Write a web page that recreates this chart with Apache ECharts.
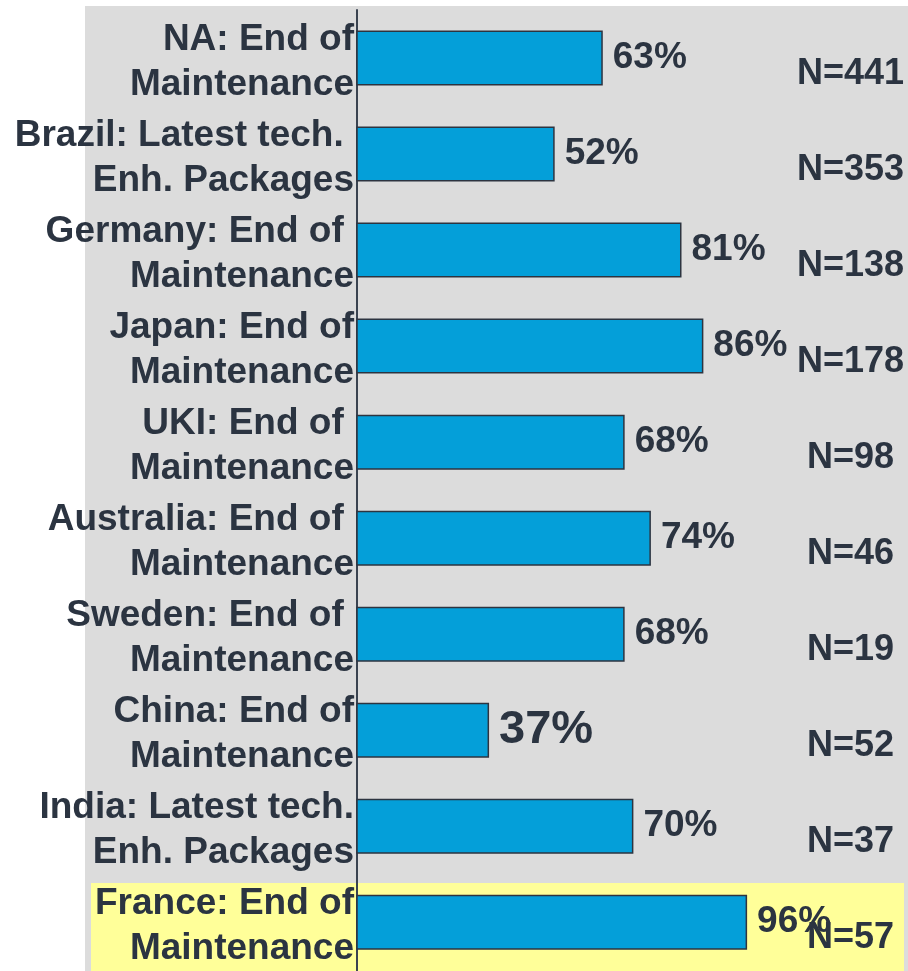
<!DOCTYPE html>
<html>
<head>
<meta charset="utf-8">
<script src="https://cdn.jsdelivr.net/npm/echarts@6/dist/echarts.min.js"></script>
<style>
    html, body { margin: 0; padding: 0; background: #fff; }
    #chart { width: 908px; height: 971px; }
</style>
</head>
<body>
<div id="chart"></div>
<script>
    var categories = [
        'NA: End of\nMaintenance',
        'Brazil: Latest tech. \nEnh. Packages',
        'Germany: End of \nMaintenance',
        'Japan: End of\nMaintenance',
        'UKI: End of \nMaintenance',
        'Australia: End of \nMaintenance',
        'Sweden: End of \nMaintenance',
        'China: End of\nMaintenance',
        'India: Latest tech.\nEnh. Packages',
        'France: End of\nMaintenance'
    ];
    var percentValues = [63, 52, 81, 86, 68, 74, 68, 37, 70, 96];
    var sampleSizes = ['N=441', 'N=353', 'N=138', 'N=178', 'N=98', 'N=46', 'N=19', 'N=52', 'N=37', 'N=57'];

    var textColor = '#2b3441';
    var font = '"Liberation Sans", Arial, sans-serif';

    var myecharts = echarts.init(document.getElementById('chart'));

    var seriesData = [];
    for (var i = 0; i < percentValues.length; i++) {
        // the China figure is called out with a larger label
        var big = categories[i].indexOf('China') === 0;
        seriesData.push({
            value: percentValues[i],
            label: big ? { fontSize: 47 } : {}
        });
    }

    var option = {
        backgroundColor: '#ffffff',
        animation: false,
        graphic: [
            { type: 'rect', z: -10, silent: true, shape: { x: 85, y: 6, width: 823, height: 965 }, style: { fill: '#dcdcdc' } },
            { type: 'rect', z: -9, silent: true, shape: { x: 91, y: 883, width: 813, height: 88 }, style: { fill: '#ffff99' } }
        ],
        grid: {
            left: 357,
            top: 10,
            width: 407.6,
            height: 966
        },
        xAxis: {
            type: 'value',
            min: 6.8,
            max: 100,
            show: false
        },
        yAxis: [{
            type: 'category',
            inverse: true,
            data: categories,
            axisLine: { show: true, lineStyle: { color: '#3a4350', width: 2 } },
            axisTick: { show: false },
            axisLabel: {
                interval: 0,
                showMinLabel: true,
                showMaxLabel: true,
                hideOverlap: false,
                margin: 3,
                color: textColor,
                fontFamily: font,
                fontWeight: 'bold',
                fontSize: 37,
                lineHeight: 45,
                align: 'right',
                // small spacer line on top nudges the two text lines down a bit
                formatter: function (v) { return '{gap| }\n' + v; },
                rich: { gap: { fontSize: 8, lineHeight: 8 } }
            }
        }, {
            type: 'category',
            inverse: true,
            position: 'right',
            data: sampleSizes,
            axisLine: { show: false },
            axisTick: { show: false },
            axisLabel: {
                interval: 0,
                showMinLabel: true,
                showMaxLabel: true,
                hideOverlap: false,
                margin: 86,
                align: 'center',
                color: textColor,
                fontFamily: font,
                fontWeight: 'bold',
                fontSize: 36,
                lineHeight: 32,
                // empty first line pushes the N= text below the bar centre
                formatter: function (v) { return '\n' + v; }
            }
        }],
        series: [{
            type: 'bar',
            yAxisIndex: 0,
            barWidth: 55,
            data: seriesData,
            itemStyle: {
                color: '#049fd9',
                borderColor: '#2d3440',
                borderWidth: 1.5
            },
            label: {
                show: true,
                position: 'right',
                distance: 10,
                formatter: '{c}%',
                color: textColor,
                fontFamily: font,
                fontWeight: 'bold',
                fontSize: 37
            }
        }]
    };

    myecharts.setOption(option);
</script>
</body>
</html>
